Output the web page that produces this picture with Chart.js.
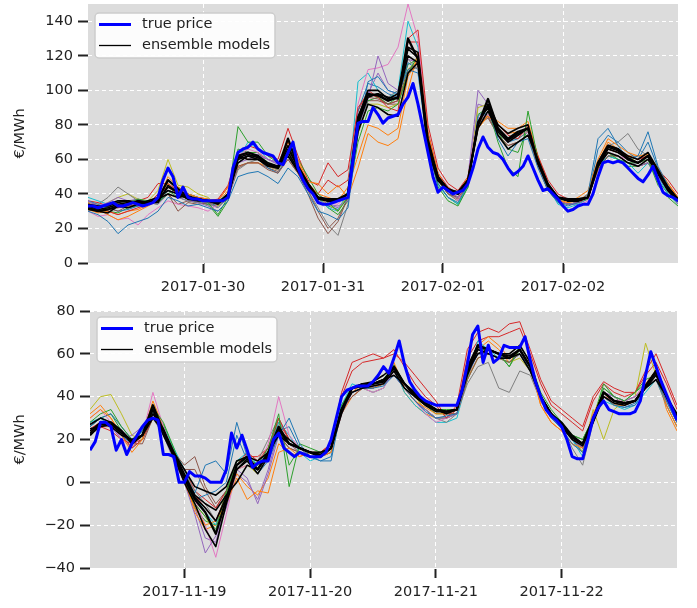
<!DOCTYPE html>
<html>
<head>
<meta charset="utf-8">
<script src="https://cdn.jsdelivr.net/npm/chart.js@4.4.1/dist/chart.umd.min.js"></script>
<style>
  html, body { margin: 0; padding: 0; background: #fff; }
  #wrap { position: relative; width: 697px; height: 608px; }
  .panel { position: absolute; left: 0; width: 697px; }
</style>
</head>
<body>
<div id="wrap">
  <div class="panel" style="top:0;height:300px"><canvas id="topChart" width="697" height="300"></canvas></div>
  <div class="panel" style="top:300px;height:308px"><canvas id="bottomChart" width="697" height="308"></canvas></div>
</div>
<script>
// ---------- top panel: 2017-01-29 .. 2017-02-02 (hours from 2017-01-29 00:00) ----------
const topDayLabels = ['2017-01-30', '2017-01-31', '2017-02-01', '2017-02-02'];
const topDayHours = [24, 48, 72, 96];
const topYTicks = [0, 20, 40, 60, 80, 100, 120, 140];
const topTrueStart = 1;   // hourly
const topModelStart = 1;  // every 2 hours

const topTruePrice = [
  33,33,32,33,34,35,33,33,34,35,
  34,33,34,35,38,48,55,50,38,44,
  38,37,37,36,36,36,36,36,38,55,
  64,66,67,70,66,64,63,62,58,57,
  64,70,55,48,43,40,35,34,34,35,
  36,37,38,60,81,82,82,90,86,81,
  84,85,86,92,96,104,92,78,64,50,
  41,44,42,40,41,42,46,55,66,73,
  67,64,63,60,55,51,53,56,62,55,
  48,42,43,40,37,33,30,31,33,34,
  34,40,50,58,59,58,59,58,55,52,
  49,47,51,56,48,41,39,38,36
];

const topEnsemble1 = [32,30,31,33,34,36,35,37,48,43, 38,37,36,35,38,62,64,62,57,55, 72,56,46,38,37,37,40,84,98,97, 94,96,130,118,66,48,42,41,48,80, 95,78,72,76,78,58,45,38,37,37, 38,58,68,66,60,58,62,52,42,36];
const topEnsemble2 = [34,33,33,35,36,34,36,38,42,40, 37,37,36,35,40,60,62,60,56,55, 64,54,44,37,36,36,40,80,96,98, 96,95,120,116,68,50,43,41,48,78, 88,76,70,74,78,58,45,38,36,36, 38,56,66,64,60,58,62,52,43,37];
const topEnsemble3 = [31,30,29,33,32,34,35,35,45,41, 37,36,36,36,38,62,60,60,57,56, 62,53,44,38,36,36,40,76,92,90, 86,85,110,116,70,50,42,40,46,82, 90,74,66,70,74,60,46,38,36,36, 38,56,64,62,58,56,60,52,44,37];
const topEnsemble4 = [33,32,34,36,36,35,34,37,40,38, 39,37,36,34,40,58,62,62,58,56, 66,56,46,38,36,36,40,84,100,100, 95,98,125,122,72,50,43,40,48,80, 92,80,75,78,80,58,44,38,36,36, 38,58,68,66,62,60,64,54,44,37];
const topEnsemble5 = [33,31,32,34,35,35,35,36,44,41, 38,37,36,35,39,61,63,61,57,56, 68,55,45,38,36,36,40,82,97,98, 94,96,124,119,68,49,42,40,47,81, 91,77,71,75,78,58,45,38,36,36, 38,57,67,65,61,58,62,53,43,37];

const topModel1 = [30,28,24,17,22,24,26,30,38,36, 33,34,32,30,36,50,52,53,50,46, 55,50,40,30,28,25,32,75,105,108, 100,98,112,110,65,46,38,35,45,85, 90,72,62,70,72,55,42,35,33,35, 40,72,78,68,60,62,76,56,45,36];
const topModel2 = [35,31,28,25,27,30,33,36,50,44, 40,38,37,36,44,62,60,60,56,55, 70,60,47,46,40,45,38,55,75,70, 68,72,100,122,75,52,42,40,50,78, 85,80,75,76,78,60,44,36,35,38, 42,60,72,68,64,62,63,55,46,38];
const topModel3 = [32,30,33,36,35,37,36,35,40,44, 40,38,35,28,38,79,70,70,62,58, 68,60,50,40,35,30,38,70,88,90, 88,92,110,120,68,44,36,33,44,82, 90,70,55,50,88,60,44,37,36,36, 38,58,64,60,58,58,60,45,38,33];
const topModel4 = [34,33,30,28,30,32,34,40,44,40, 38,37,36,37,45,64,68,66,62,60, 78,62,48,45,58,50,54,90,98,96, 90,88,130,135,80,55,46,42,50,82, 90,80,74,72,80,62,48,40,37,35, 38,55,66,64,62,60,62,54,48,40];
const topModel5 = [36,33,35,38,36,37,35,34,40,38, 36,35,33,30,36,58,60,62,60,58, 64,56,44,36,34,33,36,78,95,120, 104,100,120,115,72,52,42,38,50,100, 92,78,72,74,78,60,44,36,34,35, 38,58,68,66,60,56,58,50,42,34];
const topModel6 = [33,30,32,30,33,34,36,38,40,30, 35,34,35,34,38,56,58,58,54,52, 60,52,40,26,17,24,38,85,96,95, 92,94,112,116,70,48,40,38,45,80, 85,74,68,70,74,56,42,36,34,35, 38,54,62,62,58,56,58,52,44,36];
const topModel7 = [30,27,28,25,26,22,28,32,36,34, 33,32,30,34,40,62,66,64,60,58, 66,56,44,38,35,34,40,92,112,113, 115,125,150,130,72,50,42,36,50,84, 86,76,70,74,76,58,46,36,30,33, 36,56,64,62,60,58,60,52,44,38];
const topModel8 = [35,34,38,44,40,36,34,36,42,40, 37,36,35,32,38,54,58,60,56,54, 62,54,42,32,22,16,34,82,96,98, 96,100,118,112,70,50,40,36,46,80, 88,78,72,72,76,56,44,38,36,36, 38,56,68,70,75,66,62,54,44,36];
const topModel9 = [34,32,35,38,40,37,36,42,60,45, 44,40,38,33,40,62,64,60,56,54, 64,55,46,38,34,30,40,75,92,92, 90,92,112,118,72,48,40,36,46,90, 92,78,72,74,76,58,44,38,36,36, 38,56,66,64,62,58,62,52,44,38];
const topModel10 = [38,36,34,33,34,36,36,35,42,40, 38,36,37,36,40,60,70,66,60,58, 66,56,44,38,32,30,42,105,110,100, 95,100,140,125,68,45,38,34,44,84, 86,74,66,70,74,60,44,34,32,34, 38,56,62,60,58,52,58,50,40,34];
const topModel11 = [36,34,32,30,31,33,34,36,44,40, 37,36,35,33,38,58,62,60,55,52, 62,54,44,36,33,31,38,88,104,102, 98,96,116,112,68,48,40,38,46,82, 88,76,70,72,76,57,43,36,34,35, 38,66,74,70,64,60,70,55,44,35];
const topModel12 = [31,29,30,28,30,31,34,38,46,40, 38,36,35,35,42,56,58,58,56,54, 66,58,46,40,38,36,44,62,80,78, 74,78,108,118,74,50,42,38,48,78, 86,82,78,78,82,62,46,37,35,36, 40,58,70,66,62,62,62,54,46,38];
const topModel13 = [33,31,30,29,32,33,35,34,42,38, 36,35,34,27,36,66,64,64,58,56, 62,56,46,38,32,28,36,80,94,96, 92,96,115,118,70,46,38,34,44,86, 90,76,66,64,78,58,42,35,34,35, 37,55,62,60,56,56,58,48,40,34];
const topModel14 = [36,35,33,32,34,36,38,46,46,42, 40,38,37,36,44,60,64,64,60,58, 70,58,46,40,48,44,48,88,100,96, 92,94,128,128,76,52,44,40,48,80, 88,78,72,74,78,60,46,38,36,35, 38,56,66,64,62,60,62,54,46,38];
const topModel15 = [34,32,33,34,34,35,35,36,42,40, 37,36,34,32,38,60,62,63,60,57, 64,56,44,38,34,32,38,82,98,110, 100,98,118,116,70,50,42,38,48,92, 90,78,70,74,78,58,44,36,34,34, 37,56,66,64,60,58,60,50,42,35];
const topModel16 = [32,31,31,32,33,34,35,37,40,34, 36,35,34,33,38,55,58,58,55,53, 60,52,42,30,20,26,38,82,94,94, 92,92,110,114,70,48,40,37,45,80, 84,74,68,70,74,56,42,36,34,35, 38,54,62,62,58,56,58,52,44,36];

// ---------- bottom panel: 2017-11-18 .. 2017-11-22 (hours from 2017-11-18 00:00) ----------
const bottomDayLabels = ['2017-11-19', '2017-11-20', '2017-11-21', '2017-11-22'];
const bottomDayHours = [24, 48, 72, 96];
const bottomYTicks = [-40, -20, 0, 20, 40, 60, 80];
const bottomTrueStart = 6;
const bottomModelStart = 6;

const bottomTruePrice = [
  15,19,28,28,26,15,20,13,18,22,
  26,29,30,29,13,13,12,0,0,5,
  3,3,2,0,0,0,6,23,16,22,
  15,7,9,10,10,20,23,16,14,12,
  14,13,12,12,12,14,20,30,40,43,
  44,45,45,45,47,50,54,51,58,66,
  55,47,43,40,38,37,36,36,36,36,
  36,43,55,69,73,56,64,56,58,64,
  63,63,63,68,57,47,40,34,31,29,
  26,20,12,11,11,20,30,35,38,34,
  33,32,32,32,33,38,50,61,54,47,
  41,35,29
];

const bottomEnsemble1 = [22,27,28,24,19,22,36,24,12,2, -8,-14,-24,-8,8,12,6,14,26,18, 16,14,12,16,34,44,45,46,47,54, 46,41,37,34,33,34,52,64,62,60, 58,62,54,40,32,27,21,18,29,42, 38,37,38,45,52,40,30];
const bottomEnsemble2 = [27,30,28,24,18,22,34,22,12,0, -10,-22,-30,-10,6,10,4,12,24,18, 16,14,12,16,34,42,44,45,46,52, 44,40,36,34,32,34,50,62,60,58, 58,60,52,40,32,26,20,17,28,40, 37,36,38,44,50,40,30];
const bottomEnsemble3 = [23,28,26,22,20,22,30,24,14,6, -2,-4,-6,-2,10,12,10,14,24,20, 16,14,14,16,32,44,46,46,48,50, 46,42,37,34,33,34,52,60,62,60, 60,64,56,40,32,28,22,18,30,42, 38,37,38,44,48,40,32];
const bottomEnsemble4 = [25,26,27,24,18,22,32,25,14,4, -6,-10,-13,-6,0,8,6,14,22,18, 16,14,13,16,34,44,46,47,50,54, 46,40,36,33,33,34,54,64,62,60, 58,62,54,40,32,27,21,18,30,42, 38,37,38,45,52,40,30];
const bottomEnsemble5 = [24,28,27,23,19,22,34,24,13,3, -7,-12,-18,-7,6,11,6,13,25,18, 16,14,13,16,34,44,45,46,48,53, 46,41,37,34,33,34,52,63,62,60, 59,62,54,40,32,27,21,18,29,42, 38,37,38,45,51,40,31];

const bottomModel1 = [26,30,28,22,18,24,34,22,12,2, -5,8,10,4,28,12,4,10,22,30, 18,12,10,10,35,42,44,44,45,50, 44,38,33,30,31,32,50,60,60,58, 58,62,52,40,30,25,18,14,30,40, 36,35,36,44,48,38,28];
const bottomModel2 = [30,34,30,22,14,20,36,25,14,0, -12,-20,-18,-10,2,-8,-4,-5,14,16, 12,14,12,14,34,42,46,44,46,56, 44,38,35,32,32,34,50,64,68,64, 58,62,55,36,28,24,18,16,32,40, 36,36,38,46,52,36,26];
const bottomModel3 = [28,32,34,26,20,24,35,28,16,2, -10,-16,-22,-5,10,12,8,16,32,-2, 18,16,14,16,36,44,46,46,48,55, 46,42,38,34,34,34,52,62,62,60, 54,64,56,42,34,28,22,20,30,44, 40,38,42,48,50,40,30];
const bottomModel4 = [25,28,26,22,16,20,32,24,14,4, -6,-12,-18,-6,8,14,10,16,30,20, 16,14,14,18,40,52,56,57,58,60, 56,50,44,38,30,36,62,70,72,70, 74,75,62,48,38,34,30,26,40,47, 44,42,42,52,60,48,36];
const bottomModel5 = [24,28,26,20,22,26,34,22,10,0, -15,-33,-25,-12,6,2,-10,4,22,18, 14,12,12,14,32,42,44,45,46,50, 44,38,34,30,30,32,50,60,60,58, 58,60,52,38,30,26,20,16,30,42, 40,38,40,44,50,38,28];
const bottomModel6 = [22,26,28,24,18,18,30,24,14,8, 12,-2,-10,-4,6,10,8,12,22,16, 14,12,12,16,34,40,44,44,46,54, 46,40,36,34,32,32,48,58,60,58, 56,60,54,40,32,26,20,16,28,40, 38,36,38,44,50,40,30];
const bottomModel7 = [30,34,28,20,16,22,42,26,14,2, -8,-20,-35,-15,6,8,6,18,40,22, 16,14,12,16,34,42,44,42,44,52, 44,38,32,28,30,32,50,60,62,60, 58,62,54,40,30,26,20,16,32,40, 38,38,40,46,52,40,28];
const bottomModel8 = [24,28,26,22,18,22,30,22,12,4, -4,-10,-18,-8,10,12,10,20,30,20, 16,12,12,18,34,42,44,45,46,50, 44,38,34,30,28,32,46,54,56,44, 42,52,50,38,30,26,16,8,28,44, 40,36,38,44,48,36,26];
const bottomModel9 = [34,40,41,32,22,20,34,24,14,0, -10,-16,-24,-10,6,8,4,12,26,18, 14,12,12,14,34,44,46,46,48,52, 44,40,34,30,30,32,48,58,60,58, 56,58,52,38,30,28,22,14,34,20, 34,38,40,65,50,40,28];
const bottomModel10 = [28,30,26,22,16,20,32,26,16,6, -6,-14,-20,-6,10,14,8,14,28,22, 14,10,12,14,36,46,44,42,44,54, 42,36,32,28,28,30,48,66,62,58, 56,60,52,40,32,28,20,12,30,38, 36,34,36,42,48,36,26];
const bottomModel11 = [27,30,32,26,20,22,33,24,14,4, -8,-6,-4,0,22,10,6,12,24,26, 16,12,10,12,34,42,44,44,46,52, 44,38,34,30,30,32,50,62,60,58, 56,60,52,40,32,26,20,14,30,40, 36,35,37,44,48,38,28];
const bottomModel12 = [32,36,30,22,16,22,38,26,14,2, -14,-22,-20,-8,4,-2,-6,2,18,14, 12,14,12,14,32,40,44,42,44,54, 42,36,32,30,30,32,48,62,66,62, 56,62,54,36,28,24,18,14,32,42, 36,36,38,46,52,34,24];
const bottomModel13 = [26,30,32,24,18,22,34,27,15,2, -12,-18,-20,-4,10,10,8,14,30,8, 16,14,14,16,36,44,46,46,48,54, 46,42,36,32,32,34,52,60,62,60, 54,62,54,40,32,28,22,20,30,46, 40,38,42,46,50,40,30];
const bottomModel14 = [24,26,24,20,18,20,30,24,14,6, -4,-8,-12,-4,8,12,12,16,28,20, 16,14,14,18,42,56,58,60,58,62, 54,46,40,36,30,34,58,66,68,68, 70,72,60,46,36,32,28,24,38,46, 42,40,42,50,56,46,34];
const bottomModel15 = [26,30,28,22,20,24,36,24,12,0, -12,-26,-28,-10,4,0,-8,6,24,18, 14,12,12,14,32,42,44,45,46,50, 44,38,34,30,30,32,50,60,60,58, 58,60,52,38,30,26,20,16,30,42, 40,38,40,46,50,38,28];
const bottomModel16 = [22,26,26,24,18,20,30,24,14,6, 6,-4,-12,-4,6,10,8,12,22,16, 14,12,12,16,34,40,44,44,46,52, 46,40,36,34,32,32,48,58,60,58, 56,60,54,40,32,26,20,16,28,40, 38,36,38,44,50,40,30];

const legendLabels = ['true price', 'ensemble models'];
const tab10 = ['#1f77b4', '#ff7f0e', '#2ca02c', '#d62728', '#9467bd',
               '#8c564b', '#e377c2', '#7f7f7f', '#bcbd22', '#17becf'];

const FONT = 'DejaVu Sans';
const FONT_SIZE = 14.5;
const TEXT = '#222222';

function toPoints(vals, start, step) {
    return vals.map((v, i) => ({ x: start + i * step, y: v }));
}

// grey plot background like the matplotlib style
const plotBackground = {
    id: 'plotBackground',
    beforeDraw(chart) {
        const { ctx, chartArea } = chart;
        ctx.save();
        ctx.fillStyle = '#dcdcdc';
        ctx.fillRect(chartArea.left, chartArea.top, chartArea.right - chartArea.left, chartArea.bottom - chartArea.top);
        ctx.restore();
    }
};

// legend box drawn inside the plot, top-left
const legendBox = {
    id: 'legendBox',
    afterDatasetsDraw(chart, args, opts) {
        const { ctx, chartArea } = chart;
        const x = chartArea.left + opts.dx;
        const y = chartArea.top + opts.dy;
        ctx.save();
        ctx.fillStyle = 'rgba(255,255,255,0.9)';
        ctx.strokeStyle = '#cccccc';
        ctx.lineWidth = 1.5;
        ctx.beginPath();
        ctx.roundRect(x, y, 180, 45, 4);
        ctx.fill();
        ctx.stroke();

        const rows = [
            { color: '#0000ff', width: 3 },
            { color: '#000000', width: 1.3 }
        ];
        ctx.font = FONT_SIZE + 'px "' + FONT + '"';
        ctx.textBaseline = 'middle';
        rows.forEach((r, i) => {
            const ly = y + 11.5 + i * 21;
            ctx.strokeStyle = r.color;
            ctx.lineWidth = r.width;
            ctx.beginPath();
            ctx.moveTo(x + 4, ly);
            ctx.lineTo(x + 36, ly);
            ctx.stroke();
            ctx.fillStyle = TEXT;
            ctx.fillText(legendLabels[i], x + 47, ly);
        });
        ctx.restore();
    }
};

function makePanel(canvasId, p) {
    const datasets = [];
    datasets.push({
        data: toPoints(p.truePrice, p.trueStart, 1),
        borderColor: '#0000ff', borderWidth: 3
    });
    p.ensemble.forEach((vals, i) => {
        datasets.push({
            data: toPoints(vals, p.modelStart, 2),
            borderColor: '#000000', borderWidth: i === 0 ? 2.3 : 1.6
        });
    });
    p.models.forEach((vals, i) => {
        datasets.push({
            data: toPoints(vals, p.modelStart, 2),
            borderColor: tab10[i % tab10.length], borderWidth: 1
        });
    });

    const gridOpts = {
        color: '#ffffff', lineWidth: 1,
        tickColor: TEXT, tickWidth: 2, tickLength: 10, tickBorderDash: []
    };

    new Chart(document.getElementById(canvasId), {
        type: 'line',
        data: { datasets },
        plugins: [plotBackground, legendBox],
        options: {
            responsive: false,
            animation: false,
            parsing: false,
            elements: { point: { radius: 0 }, line: { tension: 0, borderJoinStyle: 'round' } },
            layout: { padding: { top: p.padTop, right: p.padRight, left: 0, bottom: 0 } },
            plugins: {
                legend: { display: false },
                tooltip: { enabled: false },
                legendBox: { dx: 7, dy: p.legendDy }
            },
            scales: {
                x: {
                    type: 'linear',
                    min: p.xMin, max: p.xMax,
                    afterBuildTicks: ax => { ax.ticks = p.dayHours.map(v => ({ value: v })); },
                    afterFit: ax => { ax.height = p.xAxisHeight; ax.paddingLeft = 0; ax.paddingRight = 0; },
                    grid: gridOpts,
                    border: { display: false, dash: [4, 3] },
                    ticks: {
                        color: TEXT, font: { family: FONT, size: FONT_SIZE }, padding: 6,
                        maxRotation: 0, autoSkip: false,
                        callback: (v, i) => p.dayLabels[i]
                    }
                },
                y: {
                    min: p.yMin, max: p.yMax,
                    afterBuildTicks: ax => { ax.ticks = p.yTicks.map(v => ({ value: v })); },
                    afterFit: ax => { ax.width = p.yAxisWidth; ax.paddingTop = 0; ax.paddingBottom = 0; },
                    grid: gridOpts,
                    border: { display: false, dash: [4, 3] },
                    ticks: {
                        color: TEXT, font: { family: FONT, size: FONT_SIZE }, padding: 5,
                        callback: v => (v < 0 ? '\u2212' + Math.abs(v) : String(v))
                    },
                    title: {
                        display: true, text: '€/MWh', color: TEXT,
                        font: { family: FONT, size: FONT_SIZE }, padding: { top: 12, bottom: 0 }
                    }
                }
            }
        }
    });
}

makePanel('topChart', {
    truePrice: topTruePrice, trueStart: topTrueStart, modelStart: topModelStart,
    ensemble: [topEnsemble1, topEnsemble2, topEnsemble3, topEnsemble4, topEnsemble5],
    models: [topModel1, topModel2, topModel3, topModel4, topModel5, topModel6, topModel7, topModel8,
             topModel9, topModel10, topModel11, topModel12, topModel13, topModel14, topModel15, topModel16],
    dayLabels: topDayLabels, dayHours: topDayHours, yTicks: topYTicks,
    xMin: 1, xMax: 119, yMin: 0, yMax: 150,
    padTop: 4, padRight: 19, xAxisHeight: 37, yAxisWidth: 88, legendDy: 9
});

makePanel('bottomChart', {
    truePrice: bottomTruePrice, trueStart: bottomTrueStart, modelStart: bottomModelStart,
    ensemble: [bottomEnsemble1, bottomEnsemble2, bottomEnsemble3, bottomEnsemble4, bottomEnsemble5],
    models: [bottomModel1, bottomModel2, bottomModel3, bottomModel4, bottomModel5, bottomModel6,
             bottomModel7, bottomModel8, bottomModel9, bottomModel10, bottomModel11, bottomModel12,
             bottomModel13, bottomModel14, bottomModel15, bottomModel16],
    dayLabels: bottomDayLabels, dayHours: bottomDayHours, yTicks: bottomYTicks,
    xMin: 6, xMax: 118, yMin: -40, yMax: 80,
    padTop: 11, padRight: 20, xAxisHeight: 40, yAxisWidth: 90, legendDy: 6
});
</script>
</body>
</html>
